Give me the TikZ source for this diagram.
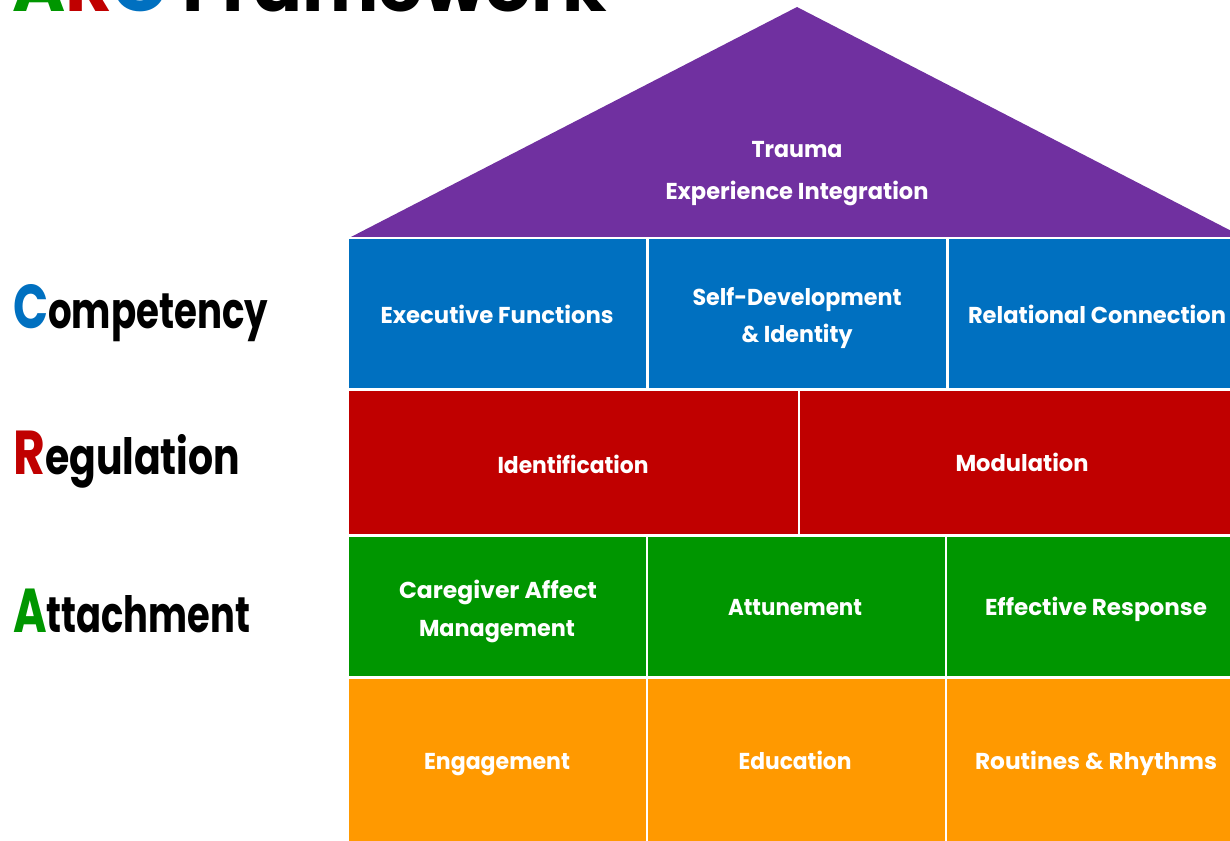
\documentclass[tikz,border=0pt]{standalone}
\usepackage{fontspec}
\setmainfont{Poppins}
\usepackage{graphicx}
\definecolor{roofc}{RGB}{112,48,160}
\definecolor{bluec}{RGB}{0,112,192}
\definecolor{redc}{RGB}{192,0,0}
\definecolor{greenc}{RGB}{0,150,0}
\definecolor{orangec}{RGB}{255,153,0}
\newcommand{\fw}[2]{\resizebox{#1pt}{\height}{#2}}
\tikzset{
  lab/.style={anchor=base, inner sep=0pt, text=white, font=\fontsize{23}{23}\selectfont\bfseries},
  side/.style={anchor=base west, inner sep=0pt, text=black, font=\bfseries},
  gap/.style={draw=white, line width=3pt}
}
\begin{document}
\begin{tikzpicture}[x=1pt,y=-1pt]
\useasboundingbox (0,0) rectangle (1230,840);
\clip (0,0) rectangle (1230,840);
% roof
\fill[roofc] (349,238) -- (797,7) -- (1245,238) -- cycle;
% rows
\fill[bluec] (349,238) rectangle (1245,389);
\fill[redc] (349,389) rectangle (1245,535);
\fill[greenc] (349,535) rectangle (1245,677);
\fill[orangec] (349,677) rectangle (1245,845);
% white separators
\draw[gap, line width=2pt] (349,238) -- (1245,238);
\draw[gap] (349,389) -- (1245,389);
\draw[gap] (349,535) -- (1245,535);
\draw[gap] (349,677) -- (1245,677);
\draw[gap] (647.5,238) -- (647.5,389);
\draw[gap] (947.5,238) -- (947.5,389);
\draw[gap, line width=2pt] (799,389) -- (799,535);
\draw[gap, line width=2pt] (646.5,535) -- (646.5,845);
\draw[gap, line width=2pt] (946,535) -- (946,845);
% title
\node[side, font=\fontsize{70}{70}\selectfont\bfseries] (title) at (12,12)
  {\fw{595}{\textcolor{greenc}{A}\textcolor{redc}{R}\textcolor{bluec}{C} Framework}};
% side labels
\node[side] (comp) at (13,328)
  {\fw{255}{\textcolor{bluec}{\fontsize{62}{62}\selectfont C}\fontsize{50}{50}\selectfont ompetency}};
\node[side] (reg) at (13,474)
  {\fw{227}{\textcolor{redc}{\fontsize{62}{62}\selectfont R}\fontsize{50}{50}\selectfont egulation}};
\node[side] (att) at (13,632)
  {\fw{237}{\textcolor{greenc}{\fontsize{62}{62}\selectfont A}\fontsize{50}{50}\selectfont ttachment}};
% roof text
\node[lab] (t1) at (797,157) {\fw{91}{Trauma}};
\node[lab] (t2) at (797,199) {\fw{263}{Experience Integration}};
% competency row
\node[lab] (ef) at (497,323) {\fw{233}{Executive Functions}};
\node[lab] (sd1) at (797,305) {\fw{209}{Self-Development}};
\node[lab] (sd2) at (797,342) {\fw{111}{\& Identity}};
\node[lab] (rc) at (1097,323) {\fw{258}{Relational Connection}};
% regulation row
\node[lab] (idf) at (573,473) {\fw{151}{Identification}};
\node[lab] (mod) at (1022,471) {\fw{133}{Modulation}};
% attachment row
\node[lab] (ca1) at (498,598) {\fw{198}{Caregiver Affect}};
\node[lab] (ca2) at (497,636) {\fw{156}{Management}};
\node[lab] (atn) at (795,615) {\fw{134}{Attunement}};
\node[lab] (er) at (1096,615) {\fw{222}{Effective Response}};
% foundation row
\node[lab] (eng) at (497,769) {\fw{146}{Engagement}};
\node[lab] (edu) at (795,769) {\fw{113}{Education}};
\node[lab] (rr) at (1096,769) {\fw{242}{Routines \& Rhythms}};
\end{tikzpicture}
\end{document}
